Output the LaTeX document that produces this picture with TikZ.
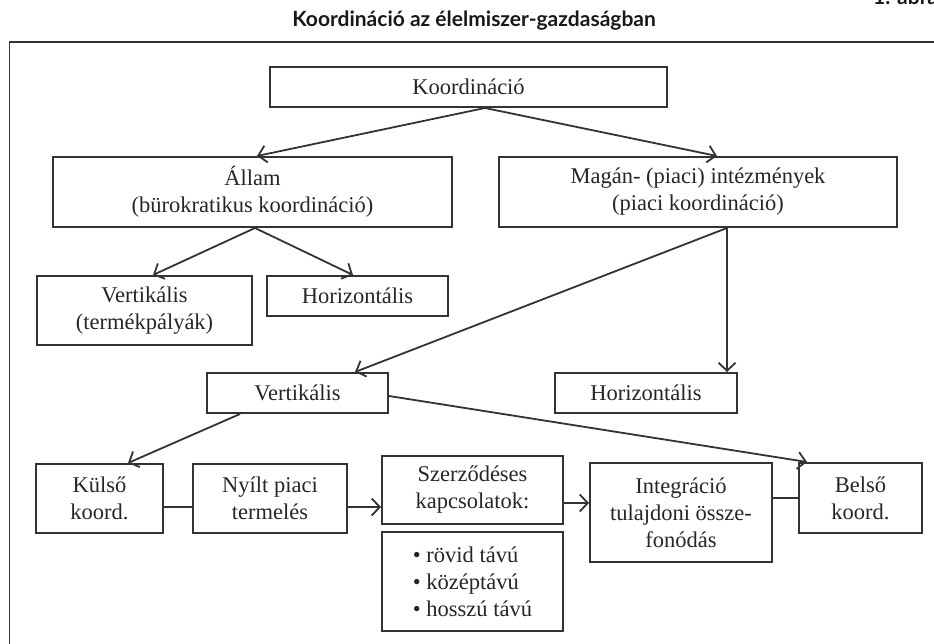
\documentclass[tikz,border=0pt]{standalone}
\usepackage{fontspec}
\setmainfont{Liberation Serif}
\newfontfamily\titlefont{Lato}
\usetikzlibrary{arrows.meta}
\begin{document}
\begin{tikzpicture}[x=1pt,y=-1pt,
  box/.style={draw=black!80, line width=2pt, inner sep=0pt, align=center,
    font=\fontsize{22.5}{27}\selectfont, text=black!85},
  conn/.style={draw=black!80, line width=1.8pt},
  arr/.style={conn, -{Straight Barb[length=8pt,width=17pt]}},
  ttl/.style={font=\titlefont\bfseries\fontsize{21}{25}\selectfont, text=black!90, inner sep=0pt}
]
\useasboundingbox (0,0) rectangle (934,644);
% title and frame
\node[ttl, anchor=base] (title) at (474,27) {Koordináció az élelmiszer-gazdaságban};
\node[ttl, anchor=base west] (abra) at (873,5) {1. ábra};
\draw[black!80, line width=1.6pt] (940,42) -- (9.5,42) -- (9.5,650);
% boxes
\node[box, minimum width=397pt, minimum height=40pt] (koord) at (468.5,87) {Koordináció};
\node[box, minimum width=399pt, minimum height=70pt] (allam) at (252.5,192) {Állam\\(bürokratikus koordináció)};
\node[box, minimum width=398pt, minimum height=70pt] (magan) at (698,192) {Magán- (piaci) intézmények\\(piaci koordináció)};
\node[box, minimum width=215pt, minimum height=69pt] (vt) at (144.5,310.5) {Vertikális\\(termékpályák)};
\node[box, minimum width=181pt, minimum height=40pt] (h1) at (357.5,296) {Horizontális};
\node[box, minimum width=181pt, minimum height=40pt] (v2) at (297.5,393) {Vertikális};
\node[box, minimum width=182pt, minimum height=40pt] (h2) at (646,393) {Horizontális};
\node[box, minimum width=127pt, minimum height=69pt] (kulso) at (99.5,498.5) {Külső\\koord.};
\node[box, minimum width=154pt, minimum height=69pt] (nyilt) at (270,498.5) {Nyílt piaci\\termelés};
\node[box, minimum width=181pt, minimum height=68pt] (szerz) at (472.5,490) {Szerződéses\\kapcsolatok:};
\node[box, minimum width=181pt, minimum height=99pt, align=left] (bul) at (472.5,581.5) {• rövid távú\\• középtávú\\• hosszú távú};
\node[box, minimum width=182pt, minimum height=99pt] (integ) at (681,512.5) {Integráció\\tulajdoni össze-\\fonódás};
\node[box, minimum width=123pt, minimum height=70pt] (belso) at (860.5,498) {Belső\\koord.};
% connectors
\draw[arr] ([xshift=16.5pt]koord.south) -- ([xshift=4.5pt]allam.north);
\draw[arr] ([xshift=16.5pt]koord.south) -- ([xshift=19pt]magan.north);
\draw[arr] ([xshift=2.5pt]allam.south) -- ([xshift=8.5pt]vt.north);
\draw[arr] ([xshift=2.5pt]allam.south) -- ([xshift=-4.5pt]h1.north);
\draw[arr] ([xshift=29pt]magan.south) -- ([xshift=57.5pt]v2.north);
\draw[arr] ([xshift=29pt]magan.south) -- ([xshift=81pt]h2.north);
\draw[arr] ([xshift=-57.5pt]v2.south) -- ([xshift=28.5pt]kulso.north);
\draw[arr] ([yshift=-3pt]v2.east) -- ([xshift=-53.5pt]belso.north);
\draw[conn] ([yshift=-8.5pt]kulso.east) -- ([yshift=-8.5pt]nyilt.west);
\draw[arr] ([yshift=-8.5pt]nyilt.east) -- ([yshift=-8.5pt]nyilt.east -| szerz.west);
\draw[arr] ([yshift=-13pt]szerz.east) -- ([yshift=-13pt]szerz.east -| integ.west);
\draw[conn] (integ.east |- belso.west) -- (belso.west);
\end{tikzpicture}
\end{document}
